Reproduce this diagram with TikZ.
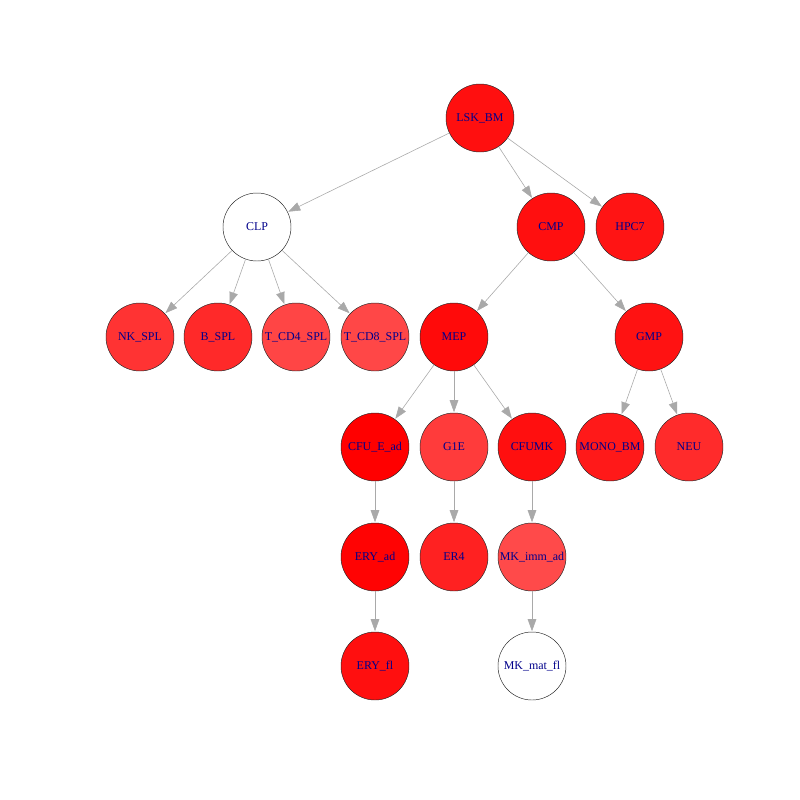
\documentclass[tikz,border=0pt]{standalone}
\usepackage{fontspec}
\setmainfont{Liberation Serif}
\usetikzlibrary{arrows.meta}
\definecolor{edgegray}{RGB}{169,169,169}
\definecolor{labelblue}{RGB}{0,0,139}

\tikzstyle{cell} = [circle, minimum size=2.04cm, inner sep=0pt, draw=black!85, line width=0.4pt, fill=red, text=labelblue, font=\fontsize{10.2}{12}\selectfont]
\tikzstyle{arrow} = [draw=edgegray, line width=0.5pt, -{Triangle[length=0.36cm, width=0.26cm]}, edgegray, shorten >=0.5pt]

\begin{document}
\begin{tikzpicture}[x=0.03cm, y=-0.03cm]
		\useasboundingbox (0,0) rectangle (800,800);
		% Nodes
		\node (lsk) [cell, fill=red!94] at (480,118) {LSK\_BM};
		\node (clp) [cell, fill=white] at (257,227) {CLP};
		\node (cmp) [cell, fill=red!94] at (551,227) {CMP};
		\node (hpc) [cell, fill=red!92] at (630,227) {HPC7};
		\node (nk) [cell, fill=red!80] at (140,337) {NK\_SPL};
		\node (bspl) [cell, fill=red!84] at (218,337) {B\_SPL};
		\node (cdfour) [cell, fill=red!73] at (296,337) {T\_CD4\_SPL};
		\node (cdeight) [cell, fill=red!72] at (375,337) {T\_CD8\_SPL};
		\node (mep) [cell, fill=red!96] at (454,337) {MEP};
		\node (gmp) [cell, fill=red!93] at (649,337) {GMP};
		\node (cfue) [cell, fill=red] at (375,447) {CFU\_E\_ad};
		\node (gone) [cell, fill=red!77] at (454,447) {G1E};
		\node (cfumk) [cell, fill=red!94] at (532,447) {CFUMK};
		\node (mono) [cell, fill=red!90] at (610,447) {MONO\_BM};
		\node (neu) [cell, fill=red!83] at (689,447) {NEU};
		\node (eryad) [cell, fill=red!99] at (375,557) {ERY\_ad};
		\node (erfour) [cell, fill=red!87] at (454,557) {ER4};
		\node (mkimm) [cell, fill=red!71] at (532,557) {MK\_imm\_ad};
		\node (eryfl) [cell, fill=red!94] at (375,666) {ERY\_fl};
		\node (mkmat) [cell, fill=white] at (532,666) {MK\_mat\_fl};
		% Arrows
		\draw [arrow] (lsk) -- (clp);
		\draw [arrow] (lsk) -- (cmp);
		\draw [arrow] (lsk) -- (hpc);
		\draw [arrow] (clp) -- (nk);
		\draw [arrow] (clp) -- (bspl);
		\draw [arrow] (clp) -- (cdfour);
		\draw [arrow] (clp) -- (cdeight);
		\draw [arrow] (cmp) -- (mep);
		\draw [arrow] (cmp) -- (gmp);
		\draw [arrow] (mep) -- (cfue);
		\draw [arrow] (mep) -- (gone);
		\draw [arrow] (mep) -- (cfumk);
		\draw [arrow] (gmp) -- (mono);
		\draw [arrow] (gmp) -- (neu);
		\draw [arrow] (cfue) -- (eryad);
		\draw [arrow] (gone) -- (erfour);
		\draw [arrow] (cfumk) -- (mkimm);
		\draw [arrow] (eryad) -- (eryfl);
		\draw [arrow] (mkimm) -- (mkmat);
	\end{tikzpicture}
\end{document}
